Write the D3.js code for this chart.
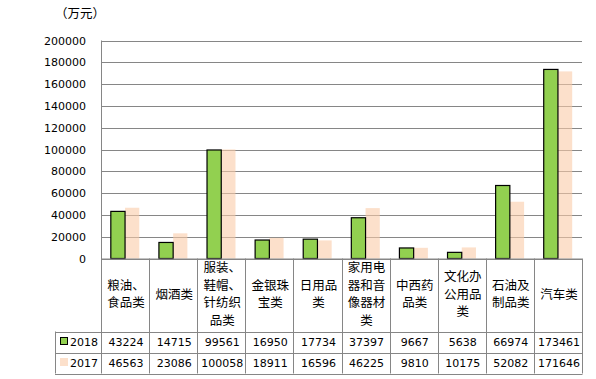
<!DOCTYPE html>
<html><head><meta charset="utf-8">
<script src="https://cdn.jsdelivr.net/npm/d3@7"></script>
<style>
body{margin:0;background:#fff;}
svg{display:block;}
</style></head>
<body>
<svg id="c" width="596" height="379"></svg>
<script>
const categories = ["粮油、食品类","烟酒类","服装、鞋帽、针纺织品类","金银珠宝类","日用品类","家用电器和音像器材类","中西药品类","文化办公用品类","石油及制品类","汽车类"];
const labelLines = [["粮油、","食品类"],["烟酒类"],["服装、","鞋帽、","针纺织","品类"],["金银珠","宝类"],["日用品","类"],["家用电","器和音","像器材","类"],["中西药","品类"],["文化办","公用品","类"],["石油及","制品类"],["汽车类"]];
const series = ["2018","2017"];
const values2018 = [43224,14715,99561,16950,17734,37397,9667,5638,66974,173461];
const values2017 = [46563,23086,100058,18911,16596,46225,9810,10175,52082,171646];
const yTicks = [0,20000,40000,60000,80000,100000,120000,140000,160000,180000,200000];
const unitLabel = "（万元）";

const svg = d3.select("#c");
const L = 101, R = 582, T = 40.5, B = 258.5;
const rowH = [258.5, 331.5, 352.5, 373.5];
const legendLeft = 55;
const grid = "#868686";
const cjk = "'Noto Sans CJK SC', sans-serif";
const num = "'DejaVu Sans', sans-serif";

const x = d3.scaleBand().domain(categories).range([L, R]).paddingInner(0).paddingOuter(0);
const xs = d3.scaleBand().domain(series).range([0, x.bandwidth()]).paddingInner(0).paddingOuter(0.69);
const y = d3.scaleLinear().domain([0, 200000]).range([B, T]);

// gridlines
svg.append("g").selectAll("line").data(yTicks).join("line")
  .attr("x1", L).attr("x2", R)
  .attr("y1", d => Math.round(y(d)) + 0.5).attr("y2", d => Math.round(y(d)) + 0.5)
  .attr("stroke", grid).attr("stroke-width", 1);

// y tick labels
const yAxis = d3.axisLeft(y).tickValues(yTicks).tickSize(0).tickPadding(15).tickFormat(d3.format("d"));
const ga = svg.append("g").attr("transform", `translate(${L},0)`).call(yAxis);
ga.select(".domain").remove();
ga.selectAll("text").attr("font-family", num).attr("font-size", 11).attr("fill", "#000");

const colors = {"2018": "#92D050", "2017": "#FACBA8"};
// bars 2017 (peach, translucent)
svg.append("g").selectAll("rect").data(categories).join("rect")
  .attr("x", c => x(c) + xs("2017"))
  .attr("y", (c, i) => y(values2017[i]))
  .attr("width", xs.bandwidth())
  .attr("height", (c, i) => B - y(values2017[i]))
  .attr("fill", colors["2017"]).attr("fill-opacity", 0.6);
// bars 2018 (green, black outline)
svg.append("g").selectAll("rect").data(categories).join("rect")
  .attr("x", c => x(c) + xs("2018"))
  .attr("y", (c, i) => y(values2018[i]))
  .attr("width", xs.bandwidth())
  .attr("height", (c, i) => B - y(values2018[i]))
  .attr("fill", colors["2018"]).attr("stroke", "#000").attr("stroke-width", 1.2);

// zero line on top
svg.append("line").attr("x1", L).attr("x2", R).attr("y1", Math.round(B)).attr("y2", Math.round(B))
  .attr("stroke", grid);

// table
const tg = svg.append("g");
const vx = categories.map(c => x(c)).concat([R]);
tg.selectAll("line.v").data(vx).join("line").attr("class","v")
  .attr("x1", d => Math.round(d)+0.5).attr("x2", d => Math.round(d)+0.5)
  .attr("y1", (d,i) => i === 0 ? T : B).attr("y2", rowH[3])
  .attr("stroke", grid);
tg.append("line").attr("x1", legendLeft+0.5).attr("x2", legendLeft+0.5).attr("y1", rowH[1]).attr("y2", rowH[3]).attr("stroke", grid);
[rowH[1], rowH[2], rowH[3]].forEach(yy => {
  tg.append("line").attr("x1", legendLeft).attr("x2", R+0.5).attr("y1", Math.round(yy)+0.5).attr("y2", Math.round(yy)+0.5).attr("stroke", grid);
});

// header labels
categories.forEach((c, i) => {
  const lines = labelLines[i];
  const lh = 17.5;
  const cy = (rowH[0] + rowH[1]) / 2 - 1;
  lines.forEach((ln, j) => {
    tg.append("text").attr("x", x(c) + x.bandwidth()/2 + 1)
      .attr("y", cy + (j - (lines.length-1)/2) * lh + 4.5)
      .attr("font-family", cjk).attr("font-size", 12.5).attr("fill", "#000")
      .attr("text-anchor", "middle").text(ln);
  });
});

// value rows
const rows = [values2018, values2017];
series.forEach((s, r) => {
  const cy = (rowH[r+1] + rowH[r+2]) / 2;
  categories.forEach((c, i) => {
    tg.append("text").attr("x", x(c) + x.bandwidth()/2 + 1).attr("y", cy + 4)
      .attr("text-anchor", "middle").attr("font-family", num).attr("font-size", 11).attr("fill", "#000")
      .text(rows[r][i]);
  });
  if (s === "2018") {
    tg.append("rect").attr("x", 60.5).attr("y", cy - 4.5).attr("width", 7).attr("height", 7)
      .attr("fill", colors[s]).attr("stroke", "#000").attr("stroke-width", 1);
  } else {
    tg.append("rect").attr("x", 60).attr("y", cy - 5).attr("width", 8).attr("height", 8)
      .attr("fill", colors[s]).attr("fill-opacity", 0.6);
  }
  tg.append("text").attr("x", 70).attr("y", cy + 4).attr("font-family", num).attr("font-size", 11)
    .attr("fill", "#000").text(s);
});

// unit label
svg.append("text").attr("x", 55).attr("y", 18).attr("font-family", cjk).attr("font-size", 12.5)
  .attr("fill", "#000").text(unitLabel);
</script>
</body></html>
